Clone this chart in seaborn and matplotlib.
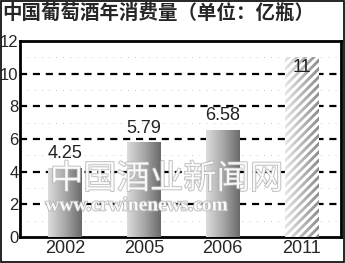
import numpy as np
import pandas as pd
import matplotlib
matplotlib.use("Agg")
import matplotlib.pyplot as plt
import matplotlib.patheffects as pe
from matplotlib.colors import LinearSegmentedColormap
import seaborn as sns

years = ["2002", "2005", "2006", "2011"]
values = [4.25, 5.79, 6.58, 11]
labels = ["4.25", "5.79", "6.58", "11"]
yticks = [0, 2, 4, 6, 8, 10, 12]
title = "中国葡萄酒年消费量（单位：亿瓶）"

sns.set_theme(style="white")
plt.rcParams['font.family'] = ['Liberation Sans', 'Noto Sans CJK SC', 'DejaVu Sans']
plt.rcParams['hatch.linewidth'] = 2.2
plt.rcParams['hatch.color'] = 'white'

fig = plt.figure(figsize=(3.45, 2.63), dpi=100)
ax = fig.add_axes([20/345, 26/263, 321/345, 196/263])

df = pd.DataFrame({"year": years, "value": values})
sns.barplot(data=df, x="year", y="value", ax=ax, width=0.43, color="#999999",
            saturation=1, edgecolor="none", zorder=3)

ax.set_xlim(-0.57, 3.5)
ax.set_ylim(0, 12)

# gradient fills
grad = np.linspace(0, 1, 256).reshape(1, -1)
cmap_solid = LinearSegmentedColormap.from_list("g1", ["#dcdcdc", "#a8a8a8", "#6a6a6a"])
cmap_hatch = LinearSegmentedColormap.from_list("g2", ["#e6e6e6", "#b8b8b8", "#8c8c8c"])
for i, p in enumerate(ax.patches):
    x0, y0 = p.get_x(), p.get_y()
    w, h = p.get_width(), p.get_height()
    cm = cmap_hatch if i == 3 else cmap_solid
    im = ax.imshow(grad, extent=[x0, x0 + w, y0, y0 + h], aspect="auto",
                   cmap=cm, zorder=3.5)
    im.set_clip_path(p)
    if i == 3:
        p.set_facecolor("none")
        p.set_hatch("////")
        p.set_edgecolor("white")
        p.set_linewidth(0)
        p.set_zorder(4)
ax.set_aspect("auto")
ax.set_xlim(-0.57, 3.5)
ax.set_ylim(0, 12)

# gridlines
for yv in yticks[1:-1]:
    ax.axhline(yv, color="black", lw=1.6, ls=(0, (3.2, 2.6)), zorder=2)
for yv in [1, 3, 5, 7, 9, 11]:
    ax.axhline(yv, color="#888888", lw=0.6, ls=(0, (0.6, 8)), zorder=1)

# watermark (behind value labels)
fx = [pe.withStroke(linewidth=1.2, foreground="#b0b0b0")]
ax.text(1.29, 3.55, "中国酒业新闻网", ha="center", va="center", fontsize=24,
        color="white", alpha=0.85, zorder=5, path_effects=fx,
        family=['Noto Sans CJK SC'])
ax.text(0.91, 1.9, "www.crwinenews.com", ha="center", va="center", fontsize=14,
        color="white", alpha=0.85, zorder=5, path_effects=fx,
        family=['Liberation Serif'], fontweight="bold")

# value labels
for i, (v, lab) in enumerate(zip(values, labels)):
    if i == 3:
        ax.text(i, v - 0.1, lab, ha="center", va="top", fontsize=13,
                color="#222222", zorder=8)
    else:
        ax.text(i, v + 0.35, lab, ha="center", va="bottom", fontsize=13,
                color="#222222", zorder=8)

ax.set_yticks(yticks)
ax.set_yticklabels([str(t) for t in yticks], fontsize=12)
ax.tick_params(axis="both", length=0, pad=1)
ax.tick_params(axis="x", labelsize=13, pad=2)
ax.set_xlabel("")
ax.set_ylabel("")
for s in ax.spines.values():
    s.set_color("black")
    s.set_linewidth(2)
    s.set_visible(True)

fig.text(2/345, 1 - 13/263, title, ha="left", va="center", fontsize=14,
         fontweight="bold", family=['Noto Sans CJK SC', 'DejaVu Sans'])

# outer frame
fig.patches.append(plt.Rectangle((0.002, 0.002), 0.996, 0.996, transform=fig.transFigure,
                                 fill=False, edgecolor="black", lw=1.2))

fig.savefig("out.png", dpi=100)
